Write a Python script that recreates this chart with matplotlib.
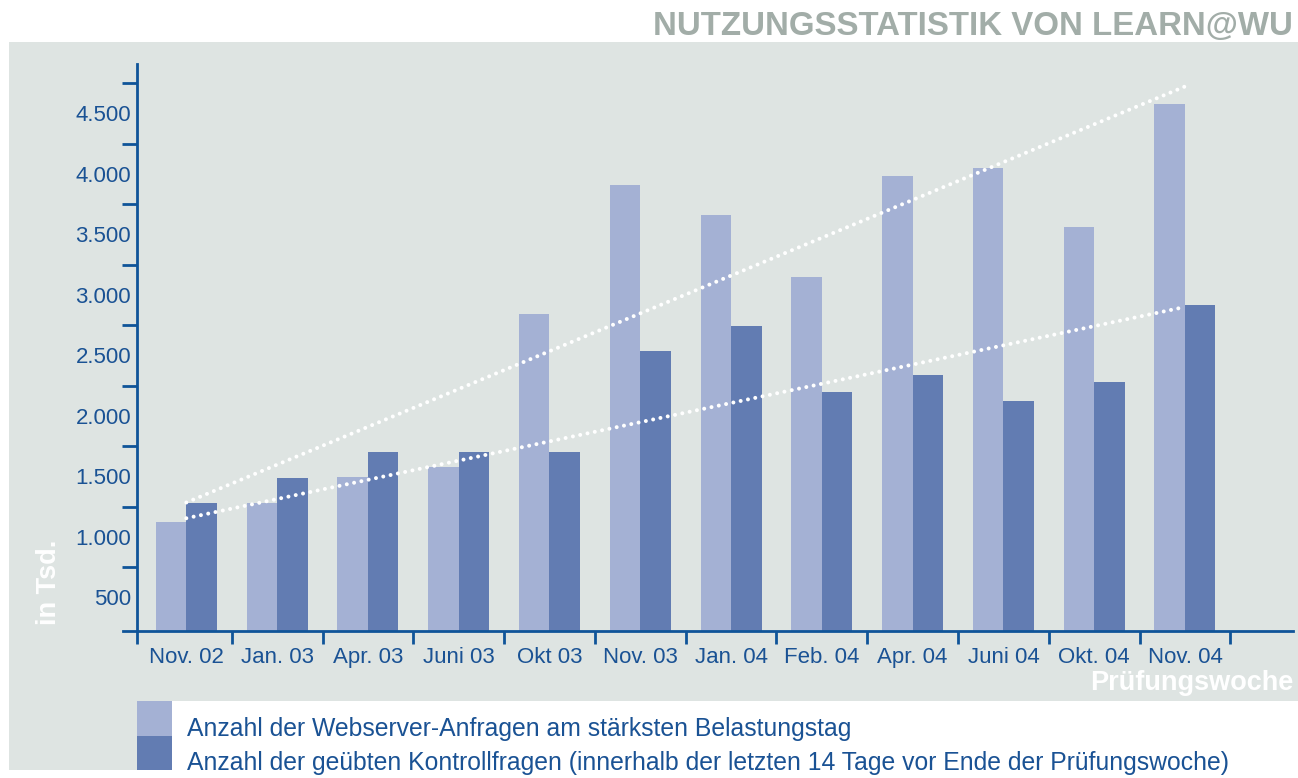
import matplotlib
matplotlib.use("Agg")
import matplotlib.pyplot as plt
from matplotlib.patches import Rectangle
import numpy as np

# ---- data (values in thousands) ----
categories = ["Nov. 02", "Jan. 03", "Apr. 03", "Juni 03", "Okt 03", "Nov. 03",
              "Jan. 04", "Feb. 04", "Apr. 04", "Juni 04", "Okt. 04", "Nov. 04"]
webserver = [1124, 1281, 1496, 1579, 2843, 3909, 3661, 3149, 3983, 4050, 3562, 4579]
kontroll = [1281, 1488, 1702, 1702, 1702, 2537, 2744, 2198, 2339, 2124, 2281, 2917]
trend_webserver = [1285, 4723]   # trend line at first and last category
trend_kontroll = [1155, 2901]
ytick_labels_vals = [500, 1000, 1500, 2000, 2500, 3000, 3500, 4000, 4500]
ytick_marks = [750, 1250, 1750, 2250, 2750, 3250, 3750, 4250, 4750]
legend_labels = ["Anzahl der Webserver-Anfragen am stärksten Belastungstag",
                 "Anzahl der geübten Kontrollfragen (innerhalb der letzten 14 Tage vor Ende der Prüfungswoche)"]

# ---- styles ----
C_LIGHT = "#a4b1d4"
C_DARK = "#627cb2"
C_AXIS = "#0f5499"
C_TEXT = "#1a5294"
C_PANEL = "#dee4e2"
C_TITLE = "#a2ada8"
FONT = "Liberation Sans"
plt.rcParams["font.family"] = [FONT, "DejaVu Sans"]

W, H = 1298, 778
fig = plt.figure(figsize=(W / 100, H / 100), dpi=100, facecolor="white")

def fx(px):
    return px / W

def fy(py):
    return 1 - py / H

# gray panel and white legend area (behind the axes)
fig.patches.append(Rectangle((fx(9), fy(770)), 1 - fx(9), fy(42) - fy(770),
                             transform=fig.transFigure, facecolor=C_PANEL,
                             edgecolor="none", zorder=-3))
fig.patches.append(Rectangle((fx(137), 0), 1 - fx(137), fy(701),
                             transform=fig.transFigure, facecolor="white",
                             edgecolor="none", zorder=-2))

ax = fig.add_axes([fx(122.5), fy(631), fx(1293) - fx(122.5), fy(64) - fy(631)])
ax.set_facecolor("none")
ax.set_zorder(1)

x = np.arange(len(categories))
bw = 0.336
ax.bar(x - bw / 2, webserver, width=bw, color=C_LIGHT, zorder=2)
ax.bar(x + bw / 2, kontroll, width=bw, color=C_DARK, zorder=2)

dot = dict(color="white", lw=2.9, linestyle=(0, (0.001, 1.85)),
           dash_capstyle="round", zorder=3)
ax.plot([x[0], x[-1]], trend_webserver, **dot)
ax.plot([x[0], x[-1]], trend_kontroll, **dot)

x_left, x_right = -0.703, 12.19
spine_x = -0.543
ax.set_xlim(x_left, x_right)
ax.set_ylim(223, 4909)

for s in ["top", "right"]:
    ax.spines[s].set_visible(False)
for s in ["left", "bottom"]:
    ax.spines[s].set_color(C_AXIS)
    ax.spines[s].set_linewidth(2.0)
    ax.spines[s].set_zorder(4)
ax.spines["left"].set_position(("data", spine_x))

# y axis: tick marks between labels
ax.set_yticks(ytick_marks)
ax.set_yticklabels([])
ax.set_yticks(ytick_labels_vals, minor=True)
ax.set_yticklabels([f"{v:,}".replace(",", ".") for v in ytick_labels_vals], minor=True)
ax.tick_params(axis="y", which="major", length=10.8, width=2.0, color=C_AXIS, direction="out")
ax.tick_params(axis="y", which="minor", length=0, pad=4.3, labelsize=16, labelcolor=C_TEXT)

# x axis: tick marks at category boundaries, labels at centers
ax.set_xticks([spine_x] + list(x[:-1] + 0.5) + [x[-1] + 0.5])
ax.set_xticklabels([])
ax.set_xticks(x, minor=True)
ax.set_xticklabels(categories, minor=True)
ax.tick_params(axis="x", which="major", length=9.4, width=2.0, color=C_AXIS, direction="out")
ax.tick_params(axis="x", which="minor", length=0, pad=23, labelsize=16, labelcolor=C_TEXT)
for lab in ax.get_xticklabels(minor=True):
    lab.set_verticalalignment("baseline")

# texts
fig.text(fx(1293), fy(35), "NUTZUNGSSTATISTIK VON LEARN@WU", ha="right", va="baseline",
         fontsize=23.8, fontweight="bold", color=C_TITLE)
fig.text(fx(49), fy(582), "in Tsd.", rotation=90, ha="center", va="center",
         fontsize=19.5, fontweight="bold", color="white")
fig.text(fx(1293), fy(690), "Prüfungswoche", ha="right", va="baseline",
         fontsize=19.5, fontweight="bold", color="white")

# legend
for i, (lab, col) in enumerate(zip(legend_labels, [C_LIGHT, C_DARK])):
    top = 701 + i * 34.5
    fig.patches.append(Rectangle((fx(137), fy(top + 34.5)), fx(172) - fx(137), fy(top) - fy(top + 34.5),
                                 transform=fig.transFigure, facecolor=col,
                                 edgecolor="none", zorder=-1))
    fig.text(fx(187), fy(736 + i * 34), lab, ha="left", va="baseline",
             fontsize=17.8, color=C_TEXT)

fig.savefig("out.png", dpi=100, facecolor="white")
